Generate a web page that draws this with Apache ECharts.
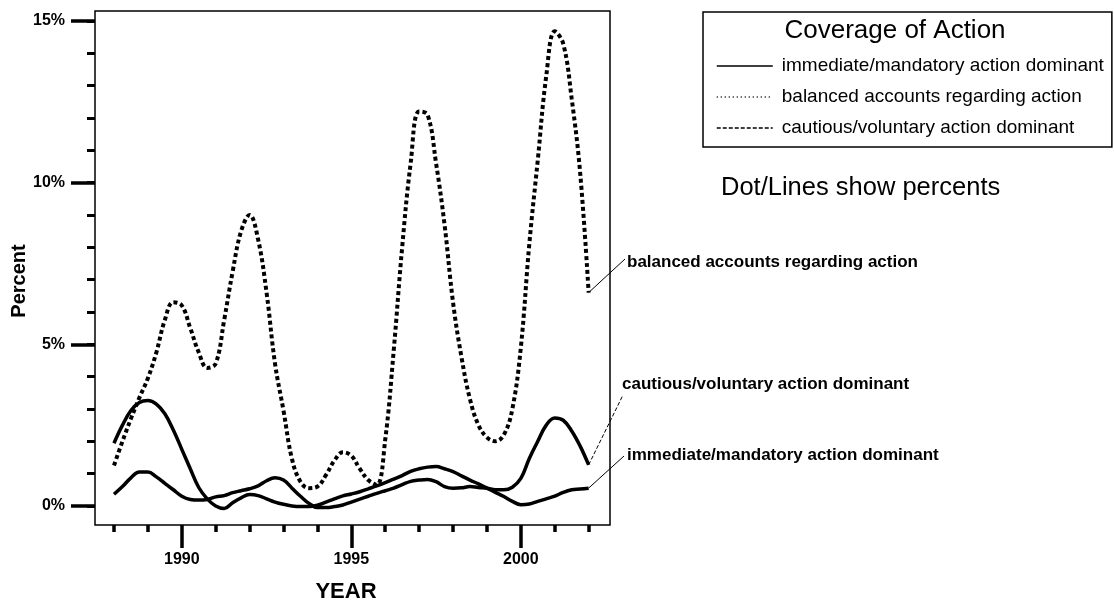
<!DOCTYPE html>
<html>
<head>
<meta charset="utf-8">
<script src="https://cdn.jsdelivr.net/npm/echarts@6/dist/echarts.min.js"></script>
<style>
  html, body { margin: 0; padding: 0; background: #fff; }
  #chart { width: 1114px; height: 605px; }
</style>
</head>
<body>
<div id="chart"></div>
<script>
// quarter-year positions of the smoothed curves
const years = [
  1988, 1988.25, 1988.5, 1988.75, 1989, 1989.25, 1989.5, 1989.75,
  1990, 1990.25, 1990.5, 1990.75, 1991, 1991.25, 1991.5, 1991.75,
  1992, 1992.25, 1992.5, 1992.75, 1993, 1993.25, 1993.5, 1993.75,
  1994, 1994.25, 1994.5, 1994.75, 1995, 1995.25, 1995.5, 1995.75,
  1996, 1996.25, 1996.5, 1996.75, 1997, 1997.25, 1997.5, 1997.75,
  1998, 1998.25, 1998.5, 1998.75, 1999, 1999.25, 1999.5, 1999.75,
  2000, 2000.25, 2000.5, 2000.75, 2001, 2001.25, 2001.5, 2001.75,
  2002
];

const immediate = [
  1.94, 2.5, 2.95, 3.2, 3.26, 3.15, 2.85, 2.35,
  1.75, 1.15, 0.57, 0.22, 0.0, -0.08, 0.1, 0.25,
  0.35, 0.32, 0.22, 0.12, 0.05, 0.0, -0.02, -0.02,
  0.02, 0.12, 0.22, 0.31, 0.37, 0.44, 0.53, 0.62,
  0.72, 0.83, 0.94, 1.07, 1.15, 1.2, 1.22, 1.15,
  1.06, 0.93, 0.8, 0.68, 0.55, 0.42, 0.29, 0.14,
  0.04, 0.06, 0.14, 0.22, 0.3, 0.42, 0.5, 0.52,
  0.55
];

const balanced = [
  1.25, 2.0, 2.7, 3.35, 3.95, 4.75, 5.75, 6.3,
  6.2, 5.5, 4.75, 4.27, 4.4, 5.75, 7.25, 8.5,
  9.0, 8.25, 6.6, 4.4, 2.95, 1.45, 0.75, 0.55,
  0.6, 0.95, 1.4, 1.66, 1.55, 1.15, 0.8, 0.65,
  2.05, 4.8, 8.0, 10.6, 12.2, 12.1, 10.6, 8.7,
  6.3, 4.6, 3.3, 2.5, 2.12, 2.0, 2.2, 3.0,
  4.9, 8.1, 10.7, 13.3, 14.68, 14.3, 12.6, 10.3,
  6.6
];

const cautious = [
  0.36, 0.6, 0.87, 1.05, 1.05, 0.9, 0.7, 0.5,
  0.3, 0.2, 0.18, 0.2, 0.28, 0.32, 0.41, 0.47,
  0.53, 0.62, 0.78, 0.87, 0.8, 0.55, 0.3, 0.08,
  -0.05, -0.05, -0.02, 0.03, 0.12, 0.21, 0.3, 0.39,
  0.47, 0.55, 0.66, 0.76, 0.8, 0.82, 0.75, 0.6,
  0.55, 0.56, 0.6, 0.57, 0.55, 0.5, 0.5, 0.58,
  0.85, 1.47, 2.0, 2.5, 2.72, 2.65, 2.32, 1.85,
  1.27
];

const seriesNames = [
  'immediate/mandatory action dominant',
  'balanced accounts regarding action',
  'cautious/voluntary action dominant'
];

const yearTicks = [1988, 1989, 1990, 1991, 1992, 1993, 1994, 1995, 1996, 1997, 1998, 1999, 2000, 2001, 2002];
const yearLabels = [1990, 1995, 2000];
const pctTicks = [0, 1, 2, 3, 4, 5, 6, 7, 8, 9, 10, 11, 12, 13, 14, 15];
const pctLabels = [0, 5, 10, 15];

const FONT = "'Liberation Sans', Arial, Helvetica, sans-serif";

const pairs = arr => years.map((y, i) => [y, arr[i]]);

const chart = echarts.init(document.getElementById('chart'));

const option = {
  animation: false,
  backgroundColor: '#fff',
  grid: {
    left: 95, top: 11, right: 504, bottom: 80,
    show: true, borderColor: '#000', borderWidth: 1.5
  },
  xAxis: [{
    type: 'value', min: 1987.44, max: 2002.63,
    axisLine: { show: false, onZero: false }, splitLine: { show: false },
    axisTick: { customValues: yearLabels, length: 23, lineStyle: { color: '#000', width: 3.5 } },
    axisLabel: {
      customValues: yearLabels, margin: 27, color: '#000',
      fontFamily: FONT, fontWeight: 'bold', fontSize: 16,
      formatter: v => String(v)
    }
  }, {
    type: 'value', min: 1987.44, max: 2002.63, position: 'bottom',
    axisLine: { show: false, onZero: false }, splitLine: { show: false },
    axisTick: { customValues: yearTicks, length: 7, lineStyle: { color: '#000', width: 3.5 } },
    axisLabel: { show: false }
  }],
  yAxis: [{
    type: 'value', min: -0.59, max: 15.31,
    axisLine: { show: false, onZero: false }, splitLine: { show: false },
    axisTick: { customValues: pctLabels, length: 24, lineStyle: { color: '#000', width: 3.5 } },
    axisLabel: {
      customValues: pctLabels, margin: 30, color: '#000',
      fontFamily: FONT, fontWeight: 'bold', fontSize: 16,
      formatter: v => v + '%'
    }
  }, {
    type: 'value', min: -0.59, max: 15.31, position: 'left',
    axisLine: { show: false, onZero: false }, splitLine: { show: false },
    axisTick: { customValues: pctTicks, length: 8, lineStyle: { color: '#000', width: 3 } },
    axisLabel: { show: false }
  }],
  legend: {
    orient: 'vertical', left: 703, top: 12,
    padding: [43, 8, 8, 13],
    borderColor: '#000', borderWidth: 1.5,
    itemWidth: 56, itemHeight: 14, itemGap: 9,
    selectedMode: false,
    itemStyle: { opacity: 0 },
    textStyle: { color: '#000', fontFamily: FONT, fontSize: 19, lineHeight: 22, padding: [0, 0, 0, 4] },
    data: [
      { name: seriesNames[0], lineStyle: { width: 1.5, type: 'solid' } },
      { name: seriesNames[1], lineStyle: { width: 1.5, type: [1, 3] } },
      { name: seriesNames[2], lineStyle: { width: 1.5, type: [4, 2] } }
    ]
  },
  series: [{
    name: seriesNames[0], type: 'line', smooth: 0.4, symbol: 'none',
    data: pairs(immediate), z: 3,
    itemStyle: { color: '#000' },
    lineStyle: { color: '#000', width: 3.5 }
  }, {
    name: seriesNames[1], type: 'line', smooth: 0.4, symbol: 'none',
    data: pairs(balanced), z: 2,
    itemStyle: { color: '#000' },
    lineStyle: { color: '#000', width: 4, type: [4, 3] }
  }, {
    name: seriesNames[2], type: 'line', smooth: 0.4, symbol: 'none',
    data: pairs(cautious), z: 3,
    itemStyle: { color: '#000' },
    lineStyle: { color: '#000', width: 3.5 }
  }],
  graphic: [
    { id: 'ttl', type: 'text', x: 895, y: 31,
      style: { text: 'Coverage of Action', fill: '#000', font: '26px ' + FONT, align: 'center', verticalAlign: 'middle' } },
    { id: 'sub', type: 'text', x: 721, y: 188,
      style: { text: 'Dot/Lines show percents', fill: '#000', font: '25.5px ' + FONT, align: 'left', verticalAlign: 'middle' } },
    { id: 'yname', type: 'text', x: 19, y: 281, rotation: Math.PI / 2,
      style: { text: 'Percent', fill: '#000', font: 'bold 20px ' + FONT, align: 'center', verticalAlign: 'middle' } },
    { id: 'xname', type: 'text', x: 346, y: 592,
      style: { text: 'YEAR', fill: '#000', font: 'bold 22px ' + FONT, align: 'center', verticalAlign: 'middle' } }
  ]
};

chart.setOption(option);

// labels at the right end of each curve, joined by thin leader lines
const notes = [
  { name: seriesNames[1], values: balanced, x: 627, y: 262, lx: 625, ly: 259, dash: null },
  { name: seriesNames[2], values: cautious, x: 622, y: 384, lx: 623, ly: 395, dash: [4, 2] },
  { name: seriesNames[0], values: immediate, x: 627, y: 455, lx: 624, ly: 456, dash: null }
];
const last = years.length - 1;
const extra = [];
notes.forEach((n, i) => {
  const p = chart.convertToPixel({ xAxisIndex: 0, yAxisIndex: 0 }, [years[last], n.values[last]]);
  extra.push({
    id: 'lead' + i, type: 'line',
    shape: { x1: p[0], y1: p[1], x2: n.lx, y2: n.ly },
    style: { stroke: '#000', lineWidth: 1, lineDash: n.dash }
  });
  extra.push({
    id: 'note' + i, type: 'text', x: n.x, y: n.y,
    style: { text: n.name, fill: '#000', font: 'bold 17px ' + FONT, align: 'left', verticalAlign: 'middle' }
  });
});
chart.setOption({ graphic: extra });
</script>
</body>
</html>
